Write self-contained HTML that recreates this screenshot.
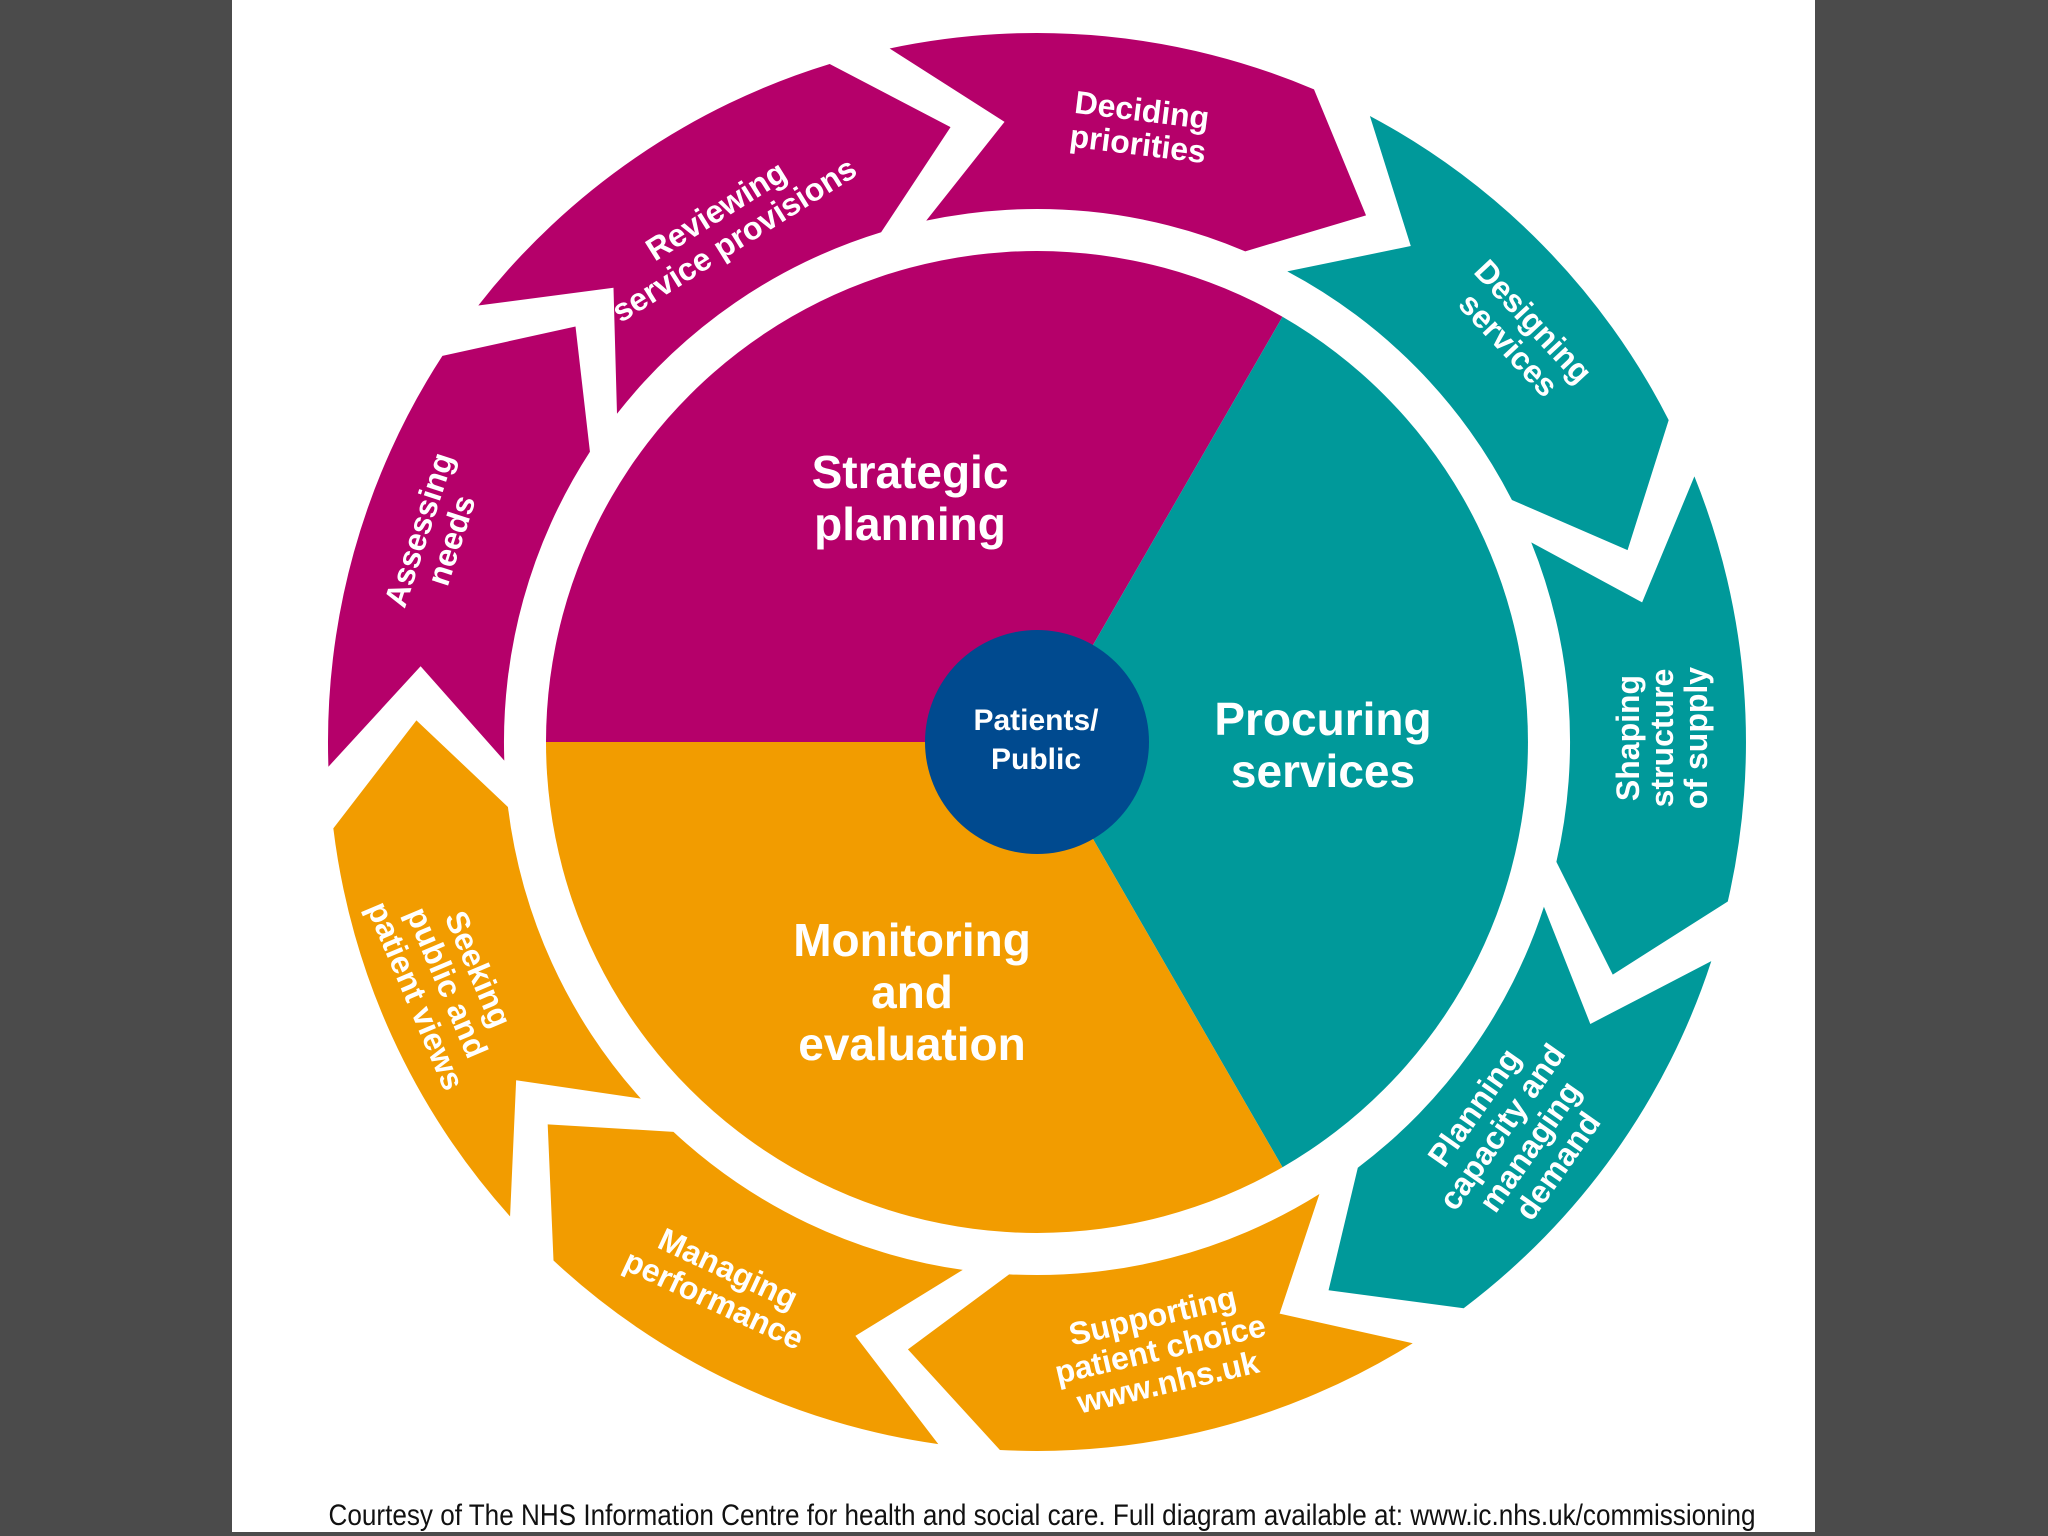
<!DOCTYPE html>
<html><head><meta charset="utf-8"><style>
html,body{margin:0;padding:0;background:#4b4b4b;}
svg{display:block;}
text{font-family:"Liberation Sans",sans-serif;font-weight:bold;fill:#fff;text-anchor:middle;}
</style></head><body>
<svg width="2048" height="1536" viewBox="0 0 2048 1536" xmlns="http://www.w3.org/2000/svg">
<rect x="0" y="0" width="2048" height="1536" fill="#4b4b4b"/>
<rect x="232" y="0" width="1583" height="1532" fill="#fff"/>
<defs>
<path id="seg" d="M670.4,-230.8 A709,709 0 0 1 681.5,195.4 L562.8,262.4 L512.4,146.9 A533,533 0 0 0 504.0,-173.5 L611.6,-107.8 Z"/>
</defs>
<g transform="translate(1037,742)">
<use href="#seg" fill="#b5006a" transform="rotate(-83)"/>
<use href="#seg" fill="#00999a" transform="rotate(-43)"/>
<use href="#seg" fill="#00999a" transform="rotate(-3)"/>
<use href="#seg" fill="#00999a" transform="rotate(37)"/>
<use href="#seg" fill="#f29c00" transform="rotate(77)"/>
<use href="#seg" fill="#f29c00" transform="rotate(117)"/>
<use href="#seg" fill="#f29c00" transform="rotate(157)"/>
<use href="#seg" fill="#b5006a" transform="rotate(197)"/>
<use href="#seg" fill="#b5006a" transform="rotate(237)"/>
</g>
<path d="M1037,742 L546,742 A491,491 0 0 1 1282.5,316.8 Z" fill="#b5006a"/>
<path d="M1037,742 L1282.5,316.8 A491,491 0 0 1 1282.5,1167.2 Z" fill="#00999a"/>
<path d="M1037,742 L1282.5,1167.2 A491,491 0 0 1 546,742 Z" fill="#f29c00"/>
<circle cx="1037" cy="742" r="112" fill="#004a8f"/>

<text font-size="30"><tspan x="1036" y="730">Patients/</tspan><tspan x="1036" y="769">Public</tspan></text>
<text font-size="46"><tspan x="910" y="488">Strategic</tspan><tspan x="910" y="540">planning</tspan></text>
<text font-size="46"><tspan x="1323" y="735">Procuring</tspan><tspan x="1323" y="787">services</tspan></text>
<text font-size="46"><tspan x="912" y="956">Monitoring</tspan><tspan x="912" y="1008">and</tspan><tspan x="912" y="1060">evaluation</tspan></text>

<g font-size="32">
<text transform="translate(1140,127) rotate(7)"><tspan x="0" y="-6">Deciding</tspan><tspan x="0" y="28">priorities</tspan></text>
<text transform="translate(1521,333) rotate(47)"><tspan x="0" y="-6">Designing</tspan><tspan x="0" y="28">services</tspan></text>
<text transform="translate(1661,738) rotate(-90)"><tspan x="0" y="-22">Shaping</tspan><tspan x="0" y="12">structure</tspan><tspan x="0" y="46">of supply</tspan></text>
<text transform="translate(1515,1136) rotate(-55)"><tspan x="0" y="-39">Planning</tspan><tspan x="0" y="-5">capacity and</tspan><tspan x="0" y="29">managing</tspan><tspan x="0" y="63">demand</tspan></text>
<text transform="translate(1160,1348) rotate(-13)"><tspan x="0" y="-22">Supporting</tspan><tspan x="0" y="12">patient choice</tspan><tspan x="0" y="46">www.nhs.uk</tspan></text>
<text transform="translate(721,1284) rotate(25)"><tspan x="0" y="-6">Managing</tspan><tspan x="0" y="28">performance</tspan></text>
<text transform="translate(448,982) rotate(67)"><tspan x="0" y="-22">Seeking</tspan><tspan x="0" y="12">public and</tspan><tspan x="0" y="46">patient views</tspan></text>
<text transform="translate(435,535) rotate(-72)"><tspan x="0" y="-6">Assessing</tspan><tspan x="0" y="28">needs</tspan></text>
<text transform="translate(725,225) rotate(-32)"><tspan x="0" y="-6">Reviewing</tspan><tspan x="0" y="28">service provisions</tspan></text>
</g>

<text x="1042" y="1525" font-size="30" style="font-weight:normal;fill:#111;font-family:'Liberation Sans Narrow','Liberation Sans',sans-serif" textLength="1427" lengthAdjust="spacingAndGlyphs">Courtesy of The NHS Information Centre for health and social care. Full diagram available at: www.ic.nhs.uk/commissioning</text>
</svg>
</body></html>
